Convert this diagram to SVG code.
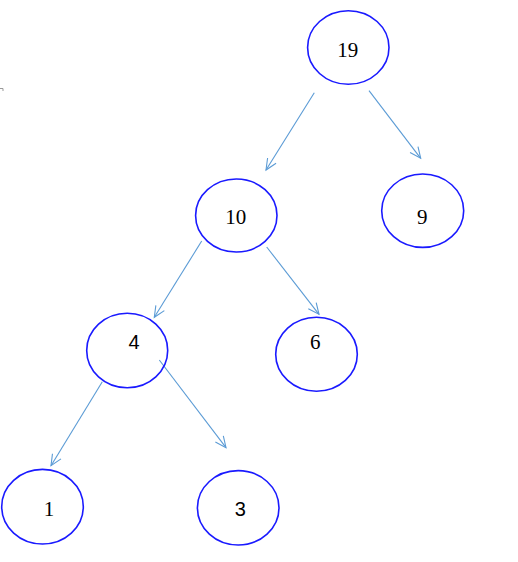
<svg xmlns="http://www.w3.org/2000/svg" width="518" height="562" viewBox="0 0 518 562">
<style>
.n ellipse{fill:none;stroke:#1a1aff;stroke-width:1.6}
.s{font-family:"Liberation Serif","Times New Roman",serif;font-size:21px;fill:#000;text-anchor:middle}
.a{font-family:"Liberation Sans",Arial,sans-serif;font-size:20px;fill:#000;text-anchor:middle}
.e line{stroke:#5b9bd5;stroke-width:1.1;marker-end:url(#ah)}
</style>
<defs>
<marker id="ah" markerWidth="14" markerHeight="14" refX="12" refY="6" orient="auto" markerUnits="userSpaceOnUse">
<path d="M1,1 L12,6 L1,11" fill="none" stroke="#5b9bd5" stroke-width="1.1"/>
</marker>
</defs>
<rect width="518" height="562" fill="#fff"/>
<path d="M0,88.5 H3 V91" fill="none" stroke="#999" stroke-width="1"/>
<g id="edges" class="e">
<line x1="314.3" y1="92.7" x2="266" y2="170"/>
<line x1="369" y1="90.7" x2="420.7" y2="158.3"/>
<line x1="201.7" y1="241" x2="154.3" y2="317.3"/>
<line x1="266.7" y1="247" x2="319" y2="314.3"/>
<line x1="102.3" y1="381.7" x2="51" y2="465.7"/>
<line x1="159.3" y1="360" x2="226" y2="447.7"/>
</g>
<g id="n19" class="n"><ellipse cx="348.3" cy="47.5" rx="40.7" ry="36.8"/><text class="s" x="347.7" y="57.3">19</text></g>
<g id="n10" class="n"><ellipse cx="236.3" cy="215.5" rx="40.7" ry="36.5"/><text class="s" x="235.7" y="224">10</text></g>
<g id="n9" class="n"><ellipse cx="422.7" cy="210.7" rx="41" ry="36.7"/><text class="s" x="422.3" y="223.5">9</text></g>
<g id="n4" class="n"><ellipse cx="127.2" cy="350.5" rx="40.5" ry="37.2"/><text class="a" x="134" y="349">4</text></g>
<g id="n6" class="n"><ellipse cx="316.5" cy="354.3" rx="40.8" ry="37"/><text class="s" x="315.3" y="349.3">6</text></g>
<g id="n1" class="n"><ellipse cx="42.5" cy="506.7" rx="40.8" ry="37.3"/><text class="s" x="49" y="516">1</text></g>
<g id="n3" class="n"><ellipse cx="238.2" cy="507.8" rx="40.8" ry="37.2"/><text class="a" x="240.3" y="516">3</text></g>
</svg>
